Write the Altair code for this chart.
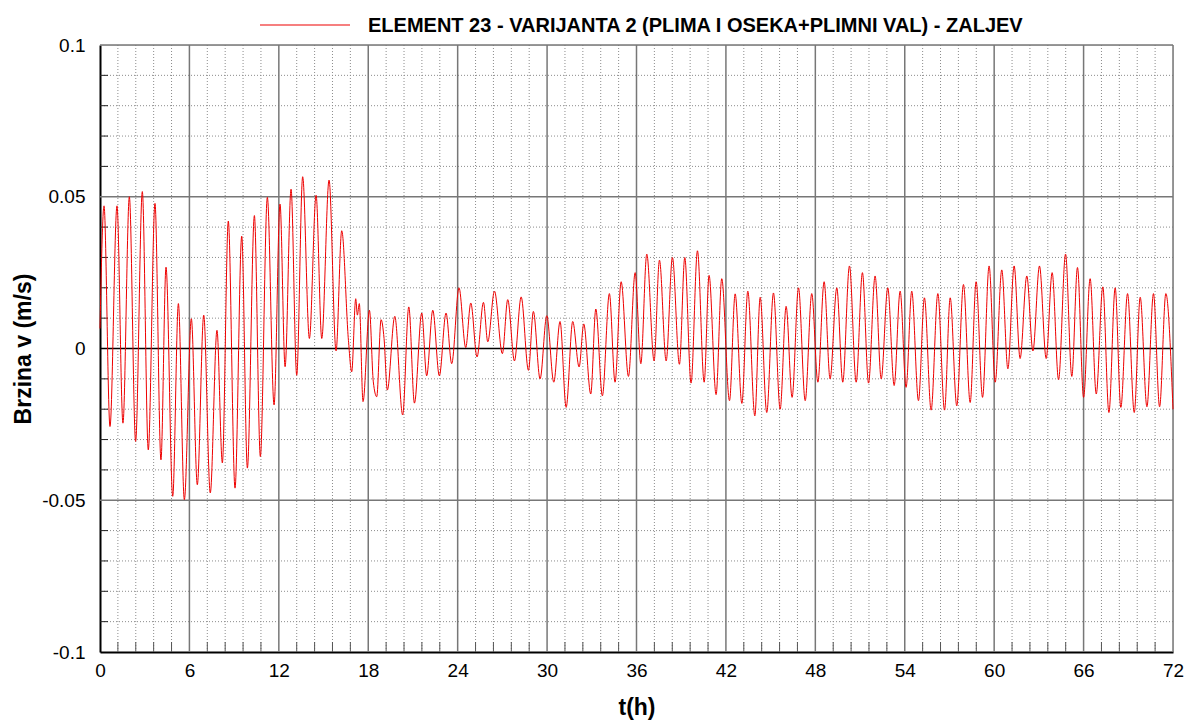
import altair as alt
import pandas as pd

# time (h) of read extrema / turning points
t_h = [0.00, 0.27, 0.67, 1.14, 1.54, 1.97, 2.39, 2.84, 3.24, 3.69, 4.09, 4.43, 4.88, 5.26, 5.66,
       6.13, 6.53, 6.96, 7.40, 7.85, 8.21, 8.61, 9.06, 9.51, 9.89, 10.36, 10.76, 11.23, 11.68,
       12.08, 12.42, 12.82, 13.20, 13.60, 14.05, 14.50, 14.88, 15.37, 15.84, 16.22, 16.67, 16.89,
       17.16, 17.27, 17.40, 17.65, 18.08, 18.34, 18.57, 18.86, 19.06, 19.28, 19.78, 20.31, 20.72,
       21.10, 21.59, 21.92, 22.33, 22.77, 23.22, 23.60, 24.09, 24.54, 24.88, 25.30, 25.73, 26.02,
       26.47, 27.00, 27.36, 27.81, 28.26, 28.75, 29.08, 29.53, 29.98, 30.45, 30.87, 31.28, 31.72,
       32.15, 32.46, 32.93, 33.27, 33.71, 34.18, 34.56, 34.97, 35.46, 35.91, 36.29, 36.69, 37.18,
       37.54, 37.99, 38.41, 38.88, 39.24, 39.66, 40.09, 40.54, 40.87, 41.34, 41.72, 42.24, 42.62,
       43.07, 43.47, 43.94, 44.30, 44.74, 45.19, 45.64, 46.04, 46.44, 46.87, 47.32, 47.76, 48.17,
       48.59, 48.99, 49.44, 49.84, 50.29, 50.74, 51.16, 51.57, 52.01, 52.42, 52.86, 53.29, 53.69,
       54.09, 54.47, 54.92, 55.32, 55.77, 56.22, 56.67, 57.05, 57.49, 57.94, 58.39, 58.79, 59.22,
       59.66, 60.07, 60.51, 60.92, 61.34, 61.74, 62.19, 62.60, 63.04, 63.49, 63.89, 64.32, 64.79,
       65.21, 65.59, 66.00, 66.44, 66.85, 67.29, 67.70, 68.12, 68.50, 68.95, 69.40, 69.80, 70.25,
       70.69, 71.10, 71.52, 72.00]

# velocity (m/s) at those times
v_ms = [0.0066, 0.047, -0.0257, 0.047, -0.0246, 0.050, -0.0306, 0.0517, -0.0334, 0.0478, -0.0367,
        0.0268, -0.0487, 0.0148, -0.0498, 0.0098, -0.0449, 0.011, -0.0476, 0.006, -0.0377, 0.042,
        -0.046, 0.037, -0.0394, 0.0438, -0.0356, 0.0498, -0.0186, 0.0476, -0.006, 0.0525, -0.0088,
        0.0566, 0.0033, 0.0505, 0.0033, 0.0555, -0.0008, 0.0388, 0.0027, -0.0077, 0.0164, 0.011,
        0.0148, -0.0175, 0.0126, -0.011, -0.0159, 0.0095, 0.0033, -0.0137, 0.0106, -0.0219, 0.0137,
        -0.018, 0.0117, -0.009, 0.0126, -0.009, 0.0117, -0.005, 0.020, 0.0003, 0.015, -0.0028,
        0.0152, 0.0022, 0.0189, -0.0017, 0.0161, -0.0041, 0.017, -0.0072, 0.0122, -0.010, 0.0108,
        -0.0111, 0.0089, -0.0194, 0.0089, -0.0061, 0.0081, -0.015, 0.013, -0.0156, 0.0181, -0.0111,
        0.022, -0.0092, 0.025, -0.005, 0.0311, -0.0041, 0.0291, -0.0041, 0.030, -0.0052, 0.030,
        -0.0114, 0.0322, -0.0111, 0.0241, -0.0152, 0.023, -0.0172, 0.018, -0.0181, 0.0189, -0.0222,
        0.0169, -0.0211, 0.0183, -0.020, 0.0139, -0.0161, 0.020, -0.0172, 0.0181, -0.0111, 0.022,
        -0.010, 0.020, -0.0111, 0.0272, -0.0111, 0.025, -0.0114, 0.0239, -0.010, 0.020, -0.0122,
        0.0189, -0.0128, 0.0189, -0.0172, 0.0167, -0.0203, 0.0181, -0.0203, 0.0167, -0.0189, 0.0211,
        -0.0178, 0.022, -0.0161, 0.0272, -0.0111, 0.0259, -0.0067, 0.0272, -0.0033, 0.0239, -0.0008,
        0.0272, -0.0033, 0.025, -0.0103, 0.0311, -0.0092, 0.0267, -0.0161, 0.023, -0.015, 0.0203,
        -0.0211, 0.020, -0.0194, 0.0181, -0.0211, 0.0169, -0.0192, 0.0181, -0.0192, 0.0181, -0.020]

series_name = "ELEMENT 23 - VARIJANTA 2 (PLIMA I OSEKA+PLIMNI VAL) - ZALJEV"

x_major = [0, 6, 12, 18, 24, 30, 36, 42, 48, 54, 60, 66, 72]
y_major = [-0.1, -0.05, 0.0, 0.05, 0.1]

x_minor = [round(m + k * 1.2, 2) for m in x_major[:-1] for k in range(1, 5)]
y_minor = [round(-0.1 + i * 0.01, 2) for i in range(21) if i % 5 != 0]

FONT = "Liberation Sans"
RED = "#ee0000"

df = pd.DataFrame({"t": t_h, "v": v_ms})

xs = alt.Scale(domain=[0, 72], nice=False, zero=False)
ys = alt.Scale(domain=[-0.1, 0.1], nice=False, zero=False)

x_axis = alt.Axis(values=x_major, grid=False, tickSize=0, labelPadding=9, labelFlush=False,
                  domainColor="#000000", domainWidth=2,
                  labelFont=FONT, labelFontSize=19, labelColor="#000000",
                  titleFont=FONT, titleFontSize=23, titleFontWeight="bold",
                  titleColor="#000000", titleY=55, titleBaseline="middle")
y_axis = alt.Axis(values=y_major, grid=False, tickSize=0, labelPadding=15, labelFlush=False,
                  labelExpr="datum.value == 0 ? '0' : toString(datum.value)",
                  domainColor="#000000", domainWidth=2,
                  labelFont=FONT, labelFontSize=19, labelColor="#000000",
                  titleFont=FONT, titleFontSize=23, titleFontWeight="bold",
                  titleColor="#000000", titleX=-77, titleBaseline="middle")

XT = "t(h)"
YT = "Brzina v (m/s)"

vminor = alt.Chart(pd.DataFrame({"x": x_minor})).mark_rule(
    color="#8c8c8c", strokeWidth=1, strokeDash=[1, 2]
).encode(x=alt.X("x:Q", scale=xs, axis=x_axis, title=XT))

hminor = alt.Chart(pd.DataFrame({"y": y_minor})).mark_rule(
    color="#8c8c8c", strokeWidth=1, strokeDash=[1, 2]
).encode(y=alt.Y("y:Q", scale=ys, axis=y_axis, title=YT))

# short inward ticks at the minor positions along the bottom and left axes
xticks = alt.Chart(pd.DataFrame({"x": x_minor})).mark_rule(
    color="#555555", strokeWidth=1
).encode(x=alt.X("x:Q", scale=xs, axis=x_axis, title=XT), y=alt.value(607), y2=alt.value(597))

yticks = alt.Chart(pd.DataFrame({"y": y_minor})).mark_rule(
    color="#222222", strokeWidth=1
).encode(y=alt.Y("y:Q", scale=ys, axis=y_axis, title=YT), x=alt.value(0), x2=alt.value(8))

vmajor = alt.Chart(pd.DataFrame({"x": x_major[1:]})).mark_rule(
    color="#777777", strokeWidth=1.5
).encode(x=alt.X("x:Q", scale=xs, axis=x_axis, title=XT))

hmajor = alt.Chart(pd.DataFrame({"y": [-0.05, 0.05, 0.1]})).mark_rule(
    color="#777777", strokeWidth=1.5
).encode(y=alt.Y("y:Q", scale=ys, axis=y_axis, title=YT))

zero = alt.Chart(pd.DataFrame({"y": [0.0]})).mark_rule(
    color="#000000", strokeWidth=1.5
).encode(y=alt.Y("y:Q", scale=ys, axis=y_axis, title=YT))

line = alt.Chart(df).mark_line(strokeWidth=1, interpolate="monotone", color=RED).encode(
    x=alt.X("t:Q", scale=xs, axis=x_axis, title=XT),
    y=alt.Y("v:Q", scale=ys, axis=y_axis, title=YT),
)

# legend (line sample + series name) above the plot
legend_df = pd.DataFrame({"s": [series_name]})
leg_line = alt.Chart(legend_df).mark_rule(color=RED, strokeWidth=1.2).encode(
    x=alt.value(160), x2=alt.value(250), y=alt.value(-20)
)
leg_text = alt.Chart(legend_df).mark_text(
    align="left", baseline="middle", font=FONT, fontSize=20, fontWeight="bold", color="#000000"
).encode(x=alt.value(268), y=alt.value(-19), text="s:N")

chart = alt.layer(vminor, hminor, xticks, yticks, vmajor, hmajor, zero, line,
                  leg_line, leg_text).properties(
    width=1073, height=607,
    autosize=alt.AutoSizeParams(type="none"),
    padding={"left": 92, "top": 37, "right": 17, "bottom": 72},
).configure_view(stroke=None).configure(background="white")

chart.save("out.html", embed_options={"renderer": "svg", "actions": False})
